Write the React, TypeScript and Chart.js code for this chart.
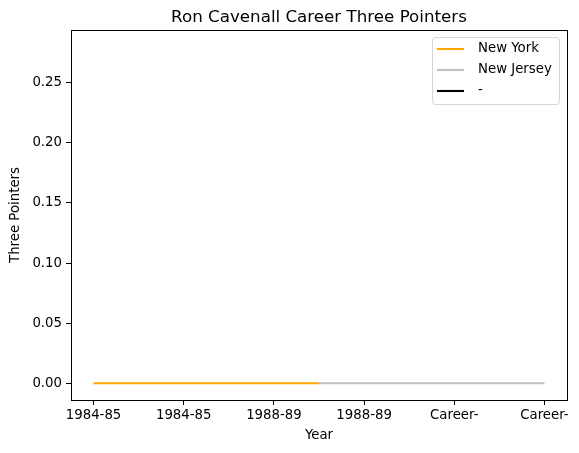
import { useEffect, useRef } from "react"
import { Chart, registerables } from "chart.js"

Chart.register(...registerables)

const title = "Ron Cavenall Career Three Pointers"
const xTickLabels = ["1984-85", "1984-85", "1988-89", "1988-89", "Career-", "Career-"]
const xTickValues = [0, 0.4, 0.8, 1.2, 1.6, 2.0]
const yTickValues = [0, 0.05, 0.1, 0.15, 0.2, 0.25]

// series: x position (season index) and three pointers
const newYorkX = [0, 1]
const newYorkY = [0, 0]
const newJerseyX = [1, 2]
const newJerseyY = [0, 0]
const otherX: number[] = []
const otherY: number[] = []

const FONT = "'DejaVu Sans', sans-serif"

const toPoints = (xs: number[], ys: number[]) => xs.map((x, i) => ({ x, y: ys[i] }))

const decorPlugin = {
  id: "decor",
  afterDraw(chart: any) {
    const { ctx, chartArea } = chart
    const { left, right, top, bottom } = chartArea
    ctx.save()
    // axes frame
    ctx.strokeStyle = "#000"
    ctx.lineWidth = 1
    ctx.strokeRect(left + 0.5, top + 0.5, right - left, bottom - top)

    // title
    ctx.fillStyle = "#000"
    ctx.font = `16.7px ${FONT}`
    ctx.textAlign = "center"
    ctx.textBaseline = "alphabetic"
    ctx.fillText(title, (left + right) / 2, 22)

    // axis titles
    ctx.font = `13.3px ${FONT}`
    ctx.textBaseline = "middle"
    ctx.fillText("Year", (left + right) / 2, 436)
    ctx.translate(16, (top + bottom) / 2)
    ctx.rotate(-Math.PI / 2)
    ctx.fillText("Three Pointers", 0, 0)
    ctx.restore()

    // legend
    ctx.save()
    const bx = 432
    const by = 37
    const bw = 127
    const bh = 67
    ctx.fillStyle = "rgba(255,255,255,0.8)"
    ctx.strokeStyle = "#d6d6d6"
    ctx.lineWidth = 1
    ctx.beginPath()
    ctx.roundRect(bx + 0.5, by + 0.5, bw, bh, 3)
    ctx.fill()
    ctx.stroke()
    ctx.font = `13.3px ${FONT}`
    ctx.textAlign = "left"
    ctx.textBaseline = "middle"
    chart.data.datasets.forEach((ds: any, i: number) => {
      const y = 49 + i * 21
      ctx.strokeStyle = ds.borderColor
      ctx.lineWidth = 2.1
      ctx.beginPath()
      ctx.moveTo(437, y)
      ctx.lineTo(464, y)
      ctx.stroke()
      ctx.fillStyle = "#000"
      ctx.fillText(ds.label, 478, y)
    })
    ctx.restore()
  },
}

export default function App() {
  const canvasRef = useRef<HTMLCanvasElement>(null)
  const chartInstance = useRef<Chart | null>(null)

  useEffect(() => {
    if (!canvasRef.current) return
    if (chartInstance.current) chartInstance.current.destroy()

    chartInstance.current = new Chart(canvasRef.current, {
      type: "line",
      data: {
        datasets: [
          {
            label: "New York",
            data: toPoints(newYorkX, newYorkY),
            borderColor: "#ffa500",
            borderWidth: 2.1,
            pointRadius: 0,
          },
          {
            label: "New Jersey",
            data: toPoints(newJerseyX, newJerseyY),
            borderColor: "#c0c0c0",
            borderWidth: 2.1,
            pointRadius: 0,
          },
          {
            label: "-",
            data: toPoints(otherX, otherY),
            borderColor: "#000000",
            borderWidth: 2.1,
            pointRadius: 0,
          },
        ],
      },
      options: {
        responsive: false,
        animation: false,
        layout: { padding: { top: 30, right: 12, left: 0, bottom: 0 } },
        plugins: {
          legend: { display: false },
          tooltip: { enabled: false },
        },
        scales: {
          x: {
            type: "linear",
            min: -0.1,
            max: 2.1,
            afterFit: (scale: any) => {
              scale.height = 53
            },
            afterBuildTicks: (scale: any) => {
              scale.ticks = xTickValues.map((v) => ({ value: v }))
            },
            grid: {
              drawOnChartArea: false,
              drawTicks: true,
              tickLength: 5,
              tickColor: "#000",
              tickWidth: 1,
            },
            border: { display: false },
            ticks: {
              color: "#000",
              padding: 3,
              maxRotation: 0,
              autoSkip: false,
              font: { family: FONT, size: 13.3 },
              callback: (v: any) => {
                const i = xTickValues.findIndex((t) => Math.abs(t - Number(v)) < 1e-6)
                return i >= 0 ? xTickLabels[i] : ""
              },
            },
          },
          y: {
            type: "linear",
            min: -0.014,
            max: 0.294,
            afterFit: (scale: any) => {
              scale.width = 71
            },
            afterBuildTicks: (scale: any) => {
              scale.ticks = yTickValues.map((v) => ({ value: v }))
            },
            grid: {
              drawOnChartArea: false,
              drawTicks: true,
              tickLength: 5,
              tickColor: "#000",
              tickWidth: 1,
            },
            border: { display: false },
            ticks: {
              color: "#000",
              padding: 4,
              autoSkip: false,
              font: { family: FONT, size: 13.3 },
              callback: (v: any) => Number(v).toFixed(2),
            },
          },
        },
      },
      plugins: [decorPlugin],
    })

    return () => {
      if (chartInstance.current) {
        chartInstance.current.destroy()
        chartInstance.current = null
      }
    }
  }, [])

  return (
    <div style={{ position: "absolute", left: 0, top: 0, width: 579, height: 453, background: "#fff" }}>
      <canvas ref={canvasRef} width={579} height={453} />
    </div>
  )
}
